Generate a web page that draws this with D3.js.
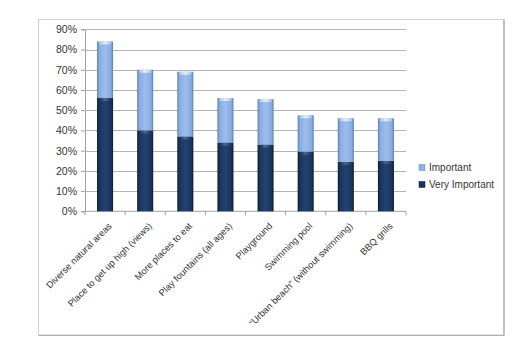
<!DOCTYPE html>
<html><head><meta charset="utf-8">
<script src="https://cdn.jsdelivr.net/npm/d3@7"></script>
<style>body{margin:0;background:#fff;} svg{display:block;font-family:"Liberation Sans",Arial,sans-serif;}</style>
</head><body>
<svg id="c" width="525" height="356"></svg>
<script>
const categories = ["Diverse natural areas","Place to get up high (views)","More places to eat","Play fountains (all ages)","Playground","Swimming pool","\u201cUrban beach\u201d (without swimming)","BBQ grills"];
const veryImportant = [56, 40, 37, 34, 33, 29.5, 24.5, 25];
const important = [28, 30, 32, 22, 22.5, 18, 21.5, 21];
const seriesNames = ["Important","Very Important"];
const yTicks = [0,10,20,30,40,50,60,70,80,90];

const svg = d3.select("#c");
const W=525,H=356;
const m = {l:85, r:119, t:29.3, b:144.7};
const x = d3.scaleBand().domain(categories).range([m.l, W-m.r]).paddingInner(0.6).paddingOuter(0.3);
const y = d3.scaleLinear().domain([0,90]).range([H-m.b, m.t]);

// frame
svg.append("rect").attr("x",38.5).attr("y",19.5).attr("width",465.5).attr("height",315.5).attr("fill","#fff").attr("stroke","#d0d0d0");
svg.append("line").attr("x1",504).attr("x2",504).attr("y1",19.5).attr("y2",335.5).attr("stroke","#9a9a9a");
svg.append("line").attr("x1",38.5).attr("x2",504).attr("y1",335.5).attr("y2",335.5).attr("stroke","#b0b0b0");

const defs = svg.append("defs");
function grad(id, stops){
  const g = defs.append("linearGradient").attr("id",id).attr("x1","0").attr("x2","1").attr("y1","0").attr("y2","0");
  stops.forEach(s=>g.append("stop").attr("offset",s[0]).attr("stop-color",s[1]));
}
grad("gDark",[[0,"#0b1b33"],[0.14,"#1a355d"],[0.5,"#22426f"],[0.86,"#1a355d"],[1,"#0b1b33"]]);
grad("gLight",[[0,"#5a7fb3"],[0.14,"#89ace0"],[0.5,"#9dbdec"],[0.86,"#89ace0"],[1,"#5a7fb3"]]);
grad("capDark",[[0,"#1a3050"],[0.5,"#4c6a94"],[1,"#1a3050"]]);
grad("capLight",[[0,"#a9c6ec"],[0.5,"#e2f0fd"],[1,"#a9c6ec"]]);

// y axis
const ya = svg.append("g").attr("transform",`translate(${m.l},0)`)
  .call(d3.axisLeft(y).tickValues(yTicks).tickFormat(d=>d+"%").tickSize(4).tickPadding(4));
ya.select(".domain").attr("stroke","#a0a0a0");
ya.selectAll(".tick line").attr("stroke","#a0a0a0");
ya.selectAll(".tick text").attr("font-size","10.5px").attr("fill","#333").attr("font-family","'Liberation Sans',Arial,sans-serif");
// gridlines
svg.append("g").selectAll("line").data(yTicks.filter(d=>d>0)).join("line")
  .attr("x1",m.l).attr("x2",W-m.r).attr("y1",d=>Math.round(y(d))+0.5).attr("y2",d=>Math.round(y(d))+0.5)
  .attr("stroke","#b4b4b4");

// x axis
const xa = svg.append("g").attr("transform",`translate(0,${y(0)})`);
xa.append("line").attr("x1",m.l).attr("x2",W-m.r).attr("stroke","#a0a0a0");
xa.selectAll(".xt").data(d3.range(categories.length+1)).join("line")
  .attr("x1",i=>m.l+i*(W-m.l-m.r)/categories.length).attr("x2",i=>m.l+i*(W-m.l-m.r)/categories.length)
  .attr("y1",0).attr("y2",4).attr("stroke","#a0a0a0");
xa.selectAll("text").data(categories).join("text")
  .attr("transform",d=>`translate(${x(d)+x.bandwidth()/2+5},13) rotate(-45)`)
  .attr("text-anchor","end").attr("dy","0.35em")
  .attr("font-size","9.3px").attr("fill","#333").text(d=>d);

// bars
const data = categories.map((c,i)=>({c, vi:veryImportant[i], im:important[i]}));
const bw = x.bandwidth();
function seg(g, x0, y0, y1, fill, cap){
  const top = y(y1), bot = y(y0);
  g.append("rect").attr("x",x0).attr("y",top).attr("width",bw).attr("height",bot-top).attr("fill",`url(#${fill})`);
  g.append("rect").attr("x",x0+2).attr("y",top).attr("width",bw-4).attr("height",3).attr("fill",`url(#${cap})`);
}
const bars = svg.append("g");
data.forEach(d=>{
  const g = bars.append("g");
  seg(g, x(d.c), 0, d.vi, "gDark", "capDark");
  seg(g, x(d.c), d.vi, d.vi+d.im, "gLight", "capLight");
});

// legend
const lg = svg.append("g").attr("transform","translate(419,0)");
const legendItems = [{n:seriesNames[0], f:"#8fb2e3", s:"#5f84b8", yy:167.5},{n:seriesNames[1], f:"#1a355d", s:"#0c1d36", yy:184.5}];
legendItems.forEach(it=>{
  lg.append("rect").attr("x",0).attr("y",it.yy-3).attr("width",6).attr("height",6).attr("fill",it.f).attr("stroke",it.s).attr("stroke-width",0.5);
  lg.append("text").attr("x",10).attr("y",it.yy).attr("dy","0.35em").attr("font-size","10px").attr("fill","#333").text(it.n);
});
</script>
</body></html>
